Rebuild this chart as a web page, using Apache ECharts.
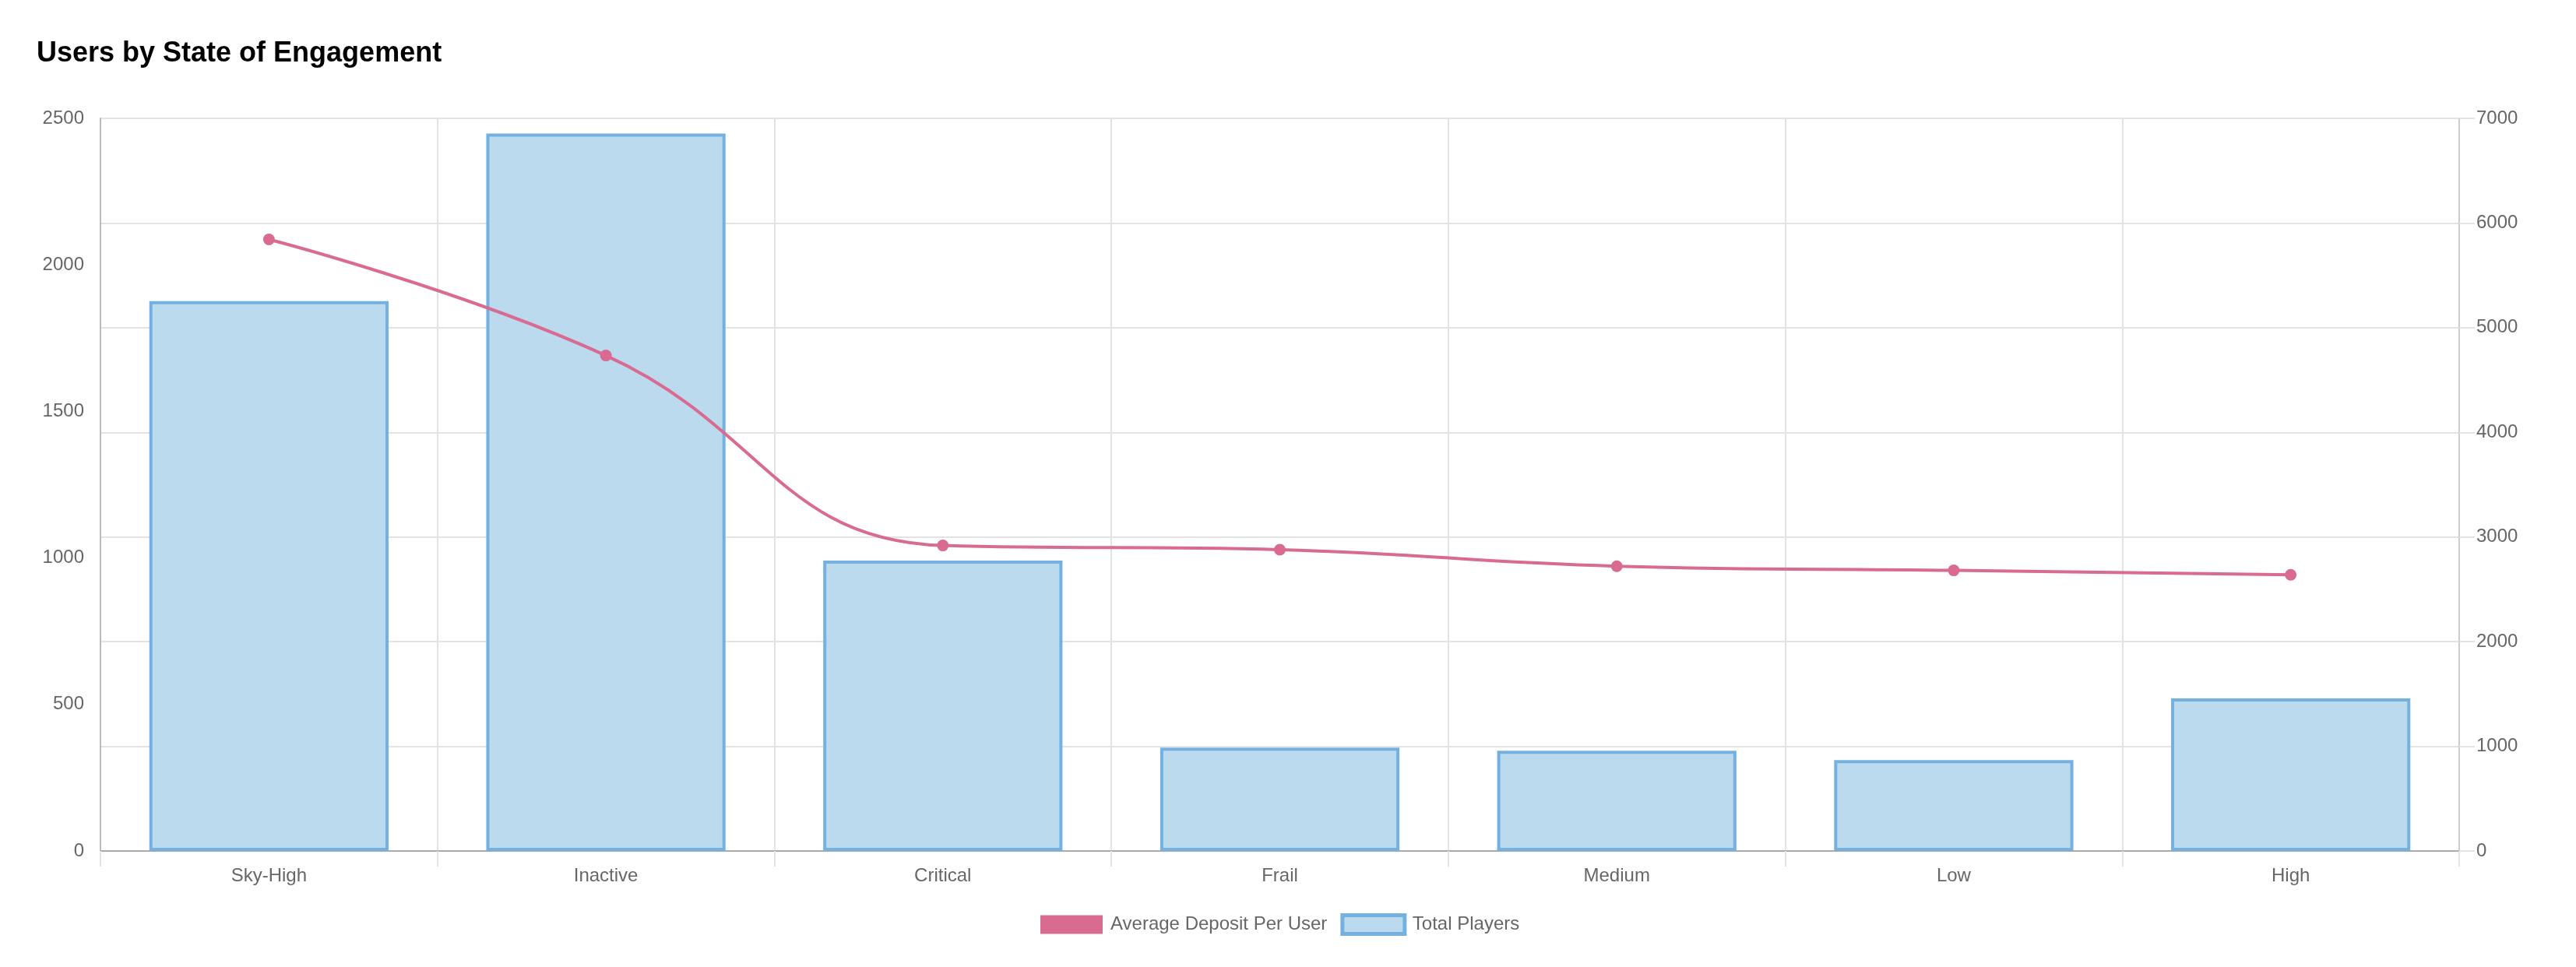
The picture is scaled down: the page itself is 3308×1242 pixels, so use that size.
<!DOCTYPE html>
<html>
<head>
<meta charset="utf-8">
<script src="https://cdn.jsdelivr.net/npm/echarts@6/dist/echarts.min.js"></script>
<style>
html,body{margin:0;padding:0;background:#fff;}
#chart{width:3308px;height:1242px;}
</style>
</head>
<body>
<div id="chart"></div>
<script>
const categories = ["Sky-High", "Inactive", "Critical", "Frail", "Medium", "Low", "High"];
const totalPlayers = [1876, 2448, 991, 353, 342, 310, 521];
const avgDeposit = [5843, 4734, 2919, 2879, 2721, 2681, 2639];
const leftTicks = { min: 0, max: 2500, interval: 500 };
const rightTicks = { min: 0, max: 7000, interval: 1000 };

const FONT = "'Helvetica Neue', Helvetica, Arial, 'Liberation Sans', sans-serif";
const plain = v => String(v);
const chart = echarts.init(document.getElementById('chart'), null, { renderer: 'canvas' });
chart.setOption({
  animation: false,
  backgroundColor: '#ffffff',
  title: {
    text: 'Users by State of Engagement',
    left: 42, top: 46,
    textStyle: { fontFamily: FONT, fontWeight: 'bold', fontSize: 36, color: '#000' }
  },
  legend: {
    left: 1331, top: 1168,
    itemWidth: 80, itemHeight: 24, itemGap: 17,
    icon: 'rect',
    textStyle: { fontFamily: FONT, fontSize: 24, color: '#666', padding: [0, 0, 0, 5] },
    data: [
      { name: 'Average Deposit Per User' },
      { name: 'Total Players', itemStyle: { color: '#bbdaee', borderColor: '#74b1e0', borderWidth: 5 } }
    ]
  },
  grid: { left: 129, right: 150, top: 152, bottom: 149, containLabel: false },
  xAxis: {
    type: 'category',
    data: categories,
    boundaryGap: true,
    axisLine: { show: true, lineStyle: { color: '#aaaaaa', width: 2 } },
    axisTick: { show: true, length: 20, lineStyle: { color: '#e3e3e3', width: 2 } },
    splitLine: { show: true, lineStyle: { color: '#e3e3e3', width: 2 } },
    axisLabel: { margin: 20, fontFamily: FONT, fontSize: 24, color: '#666' }
  },
  yAxis: [
    {
      type: 'value', position: 'left',
      min: leftTicks.min, max: leftTicks.max, interval: leftTicks.interval,
      axisLine: { show: true, lineStyle: { color: '#bbbbbb', width: 2 } },
      axisTick: { show: false },
      splitLine: { show: false },
      axisLabel: { margin: 21, fontFamily: FONT, fontSize: 24, color: '#666', formatter: plain }
    },
    {
      type: 'value', position: 'right',
      min: rightTicks.min, max: rightTicks.max, interval: rightTicks.interval,
      axisLine: { show: true, lineStyle: { color: '#cccccc', width: 2 } },
      axisTick: { show: true, length: 20, lineStyle: { color: '#e3e3e3', width: 2 } },
      splitLine: { show: true, lineStyle: { color: '#e3e3e3', width: 2 } },
      axisLabel: { margin: 22, fontFamily: FONT, fontSize: 24, color: '#666', formatter: plain }
    }
  ],
  series: [
    {
      name: 'Average Deposit Per User',
      type: 'line',
      yAxisIndex: 1,
      data: avgDeposit,
      smooth: 0.45,
      smoothMonotone: 'none',
      symbol: 'circle',
      symbolSize: 15,
      z: 5,
      lineStyle: { color: '#d96b91', width: 4 },
      itemStyle: { color: '#d96b91' }
    },
    {
      name: 'Total Players',
      type: 'bar',
      yAxisIndex: 0,
      data: totalPlayers,
      barWidth: '71%',
      z: 2,
      itemStyle: { color: '#bbdaee', borderColor: '#74b1e0', borderWidth: 4 }
    }
  ]
});
</script>
</body>
</html>
